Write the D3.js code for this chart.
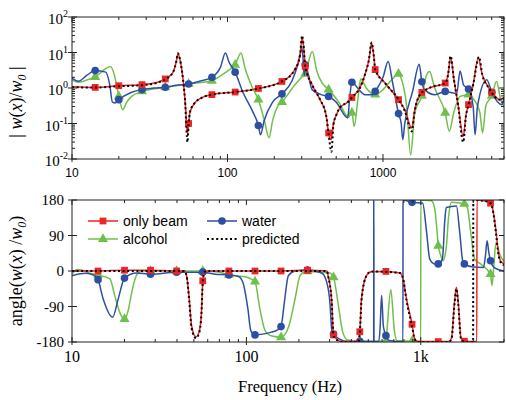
<!DOCTYPE html>
<html><head><meta charset="utf-8">
<script src="https://cdn.jsdelivr.net/npm/d3@7"></script>
<style>body{margin:0;background:#fff}</style></head>
<body>
<svg id="c" width="506" height="400"></svg>
<script>
// ---------- DATA ----------
const markerFreqs = [14.1, 20, 28.2, 39.8, 56.2, 79.4, 112, 158, 224, 316, 447, 631, 891, 1259, 1778, 2512, 3548, 5012];

// amplitude |w(x)/w0|
const beamAmpLine = [[10,1.09],[36,1.48],[44.5,2.7],[46.8,5.5],[48,9],[49.5,6.3],[51.8,1.7],[53.3,0.47],[55.3,0.05],[57.4,0.21],[61.6,0.38],[66.6,0.5],[271,3.3],[293,8.7],[302,27],[310,12],[350,1.24],[394,0.47],[430,0.177],[464,0.035],[480,0.1],[500,0.17],[529,0.28],[593,0.4],[711,1.02],[765,2.37],[812,6.3],[845,18.5],[875,7.1],[1030,1.38],[1380,0.245],[1530,0.075],[1600,0.245],[1730,0.65],[2005,1.02],[2620,2.37],[2720,7.3],[2860,1.71],[3040,0.34],[3280,0.043],[3420,0.177],[3800,1.24],[4100,7],[4350,2.37],[4780,1.02],[5650,0.47],[6000,0.53]];
const beamAmpMarks = [1.04, 1.16, 1.24, 1.8, 0.1, 0.65, 0.77, 0.97, 1.53, 4.06, 0.054, 0.54, 3.3, 0.47, 0.75, 1.38, 0.34, 0.75];

const waterAmpLine = [[10,1.9],[11,1.55],[12.5,2.3],[16.5,2.8],[17.5,1.2],[18.2,0.4],[19,0.38],[24,0.75],[34,1.0],[47,1.2],[68,1.6],[90,3.8],[97,9.7],[102,5.5],[125,0.8],[145,0.22],[163,0.048],[172,0.12],[195,0.4],[260,1.6],[285,5],[302,13.4],[312,2.2],[350,0.9],[400,0.65],[500,0.4],[593,0.143],[612,0.6],[700,0.9],[765,0.65],[860,0.65],[1000,2],[1080,5.6],[1150,1.5],[1310,0.1],[1340,0.035],[1380,0.1],[1550,0.8],[1710,4.7],[1850,0.9],[2160,0.65],[2980,0.7],[3130,3.0],[3300,1.2],[3800,0.3],[3910,0.048],[4050,0.3],[4650,1.7],[5800,0.34],[6000,0.5]];
const waterAmpMarks = [3.1, 0.47, 0.9, 1.05, 1.3, 2.0, 2.8, 0.088, 0.68, 4.5, 0.58, 1.45, 0.8, 0.19, 1.5, 0.8, 0.94, 0.75];

const alcoholAmpLine = [[10,1.7],[11,1.45],[13,1.8],[16,3.2],[17.6,4.06],[18.8,2.2],[19.6,0.9],[21.2,0.245],[22.5,0.4],[24.2,0.58],[90,2.2],[100,3],[122,9.7],[130,3.5],[145,1.0],[172,0.13],[185,0.04],[195,0.12],[210,0.3],[270,1.2],[300,2.0],[351,10.7],[375,3],[410,1.3],[520,0.4],[600,0.15],[653,0.083],[690,0.5],[718,1.8],[780,1.0],[1000,0.9],[1150,1.8],[1300,2.0],[1420,0.3],[1506,0.013],[1600,0.2],[1900,2.2],[1990,2.9],[2150,1.0],[2670,0.06],[2850,0.2],[3130,0.58],[3800,0.5],[4200,0.2],[4370,0.054],[4590,0.32],[5370,1.53],[5700,0.5],[6000,0.3]];
const alcoholAmpMarks = [2.04, 0.58, 0.8, 1.04, 1.3, 1.6, 4.5, 0.47, 0.4, 2.5, 0.9, 0.2, 0.65, 2.5, 0.6, 0.2, 0.65, 0.6];

const predAmp = [[10,1.05],[14.1,1.03],[20,1.12],[28.2,1.2],[36,1.45],[39.8,1.75],[44.5,2.7],[46.8,5.5],[48,9.5],[49.5,6.3],[51.8,1.7],[53.3,0.47],[55.3,0.03],[56.2,0.09],[57.4,0.21],[61.6,0.38],[66.6,0.5],[79.4,0.65],[112,0.77],[158,0.97],[224,1.53],[271,3.3],[293,8.7],[302,30],[310,12],[316,4.2],[350,1.24],[394,0.47],[430,0.177],[447,0.05],[466,0.016],[480,0.09],[500,0.17],[529,0.28],[593,0.4],[631,0.54],[711,1.02],[765,2.37],[812,6.3],[845,19],[875,7.1],[891,3.3],[1030,1.38],[1259,0.47],[1380,0.23],[1530,0.06],[1600,0.23],[1730,0.65],[2005,1.02],[2512,1.38],[2620,2.37],[2720,8],[2860,1.71],[3040,0.34],[3280,0.03],[3420,0.17],[3548,0.34],[3800,1.24],[4150,7.5],[4350,2.37],[4780,1.02],[5650,0.47],[6000,0.53]];

// phase angle(w(x)/w0), degrees
const beamPhaseLine = [[10,0],[44,0],[45.4,-12],[47,-70],[48.5,-139],[51.4,-167],[53.5,-155],[55.2,-110],[57.5,-3],[59,0],[290,0],[294,-12],[308,-71],[351,-179],[437,-179],[457,-71],[488,-12],[520,-2],[760,-5],[792,-20],[828,-71],[920,-170],[960,-179],[1450,-179],[1500,-170],[1560,-80],[1600,-41],[1640,-80],[1700,-170],[2095,-179],[2100,180],[2300,178],[2600,152],[2700,100],[2780,50],[2870,25],[3000,18]];
const beamPhaseMarks = [0, 2, 2, 0, -25, 0, 0, 0, 2, -162, -154, -1, -135, -179, -178, 172, null, null];

const waterPhaseLine = [[10,-12],[12,-6],[13.3,-10],[15.1,-71],[17.1,-117],[18.4,-71],[23.5,-5],[40,-3],[66,-8],[90,-14],[95.5,-29],[102,-96],[106,-151],[139,-155],[150,-150],[163,-100],[166,-71],[174,-12],[190,0],[270,-5],[285,-20],[300,-71],[310,-155],[340,-172],[383,-179],[537,-179],[537.5,180],[538.5,180],[539,-179],[575,-178],[585,-140],[596,-62],[610,-140],[660,-176],[790,-179],[791,180],[1025,172],[1080,98],[1126,30],[1200,18],[1330,30],[1375,132],[1400,161],[1600,165],[1672,98],[1745,22],[2000,10],[2290,9],[2350,40],[2400,77],[2450,50],[2650,8],[3000,0]];
const waterPhaseMarks = [-22, -18, -8, -3, -3, -10, -162, -141, 2.5, -160, -178, -164, 174, 18, 18, 26, null, null];

const alcoholPhaseLine = [[10,-8],[10.7,4],[11.5,2],[12.5,-5],[16.5,-20],[17.6,-63],[19,-110],[21,-100],[22,-54],[23.5,-10],[25,0],[70,-3],[100,-15],[106,-20],[119.5,-96],[128,-151],[140,-165],[175,-140],[190,-71],[203,-12],[215,-2],[300,-5],[335,-80],[357,-155],[380,-175],[418,-178],[600,-178],[640,-150],[673,-47],[705,-150],[730,-177],[999,-178],[1000,180],[1150,178],[1200,160],[1240,100],[1300,40],[1340,26],[1400,60],[1440,132],[1500,174],[1850,160],[1930,100],[2036,30],[2200,18],[2560,-37],[2620,10],[2700,72],[2850,40],[3000,25]];
const alcoholPhaseMarks = [-10, -122, 0, 0, 0, -10, -27, -168, -1, -16, -178, -178, -178, 64, 170, -8, null, null];

const predPhase = [[10,0],[44,0],[45.4,-12],[47,-75],[48.5,-145],[51.4,-170],[53.5,-158],[55.2,-110],[56.2,-30],[57.5,-3],[59,0],[290,0],[294,-12],[308,-75],[316,-165],[351,-180],[437,-180],[447,-158],[457,-75],[488,-12],[520,-1],[760,-5],[792,-20],[828,-75],[891,-140],[920,-172],[960,-180],[1450,-180],[1500,-172],[1560,-85],[1600,-45],[1640,-85],[1700,-172],[1800,-180],[1995,-180],[2000,180],[2300,178],[2512,172],[2600,150],[2700,95],[2780,45],[2870,22],[3000,15]];

const ampTickLabels = ["10","100","1000"];
const ampTickValues = [10,100,1000];
const phaseXTickLabels = ["10","100","1k"];
const phaseXTickValues = [10,100,1000];
const ampYTicks = [2,1,0,-1,-2];
const phaseYTicks = [180,90,0,-90,-180];
const legendNames = ["only beam","alcohol","water","predicted"];

// ---------- DRAW ----------
const RED="#ee2424", BLUE="#2d4fa3", GREEN="#6fc04b";
const SERIF="'Liberation Serif','Times New Roman',serif";
const SANS="'Liberation Sans',Arial,sans-serif";
const svg=d3.select("#c");
const L=72,R=504, tT=17,tB=159, bT=200,bB=342;
const xTop=d3.scaleLog().domain([10,6000]).range([L,R]);
const yTop=d3.scaleLog().domain([0.01,100]).range([tB,tT]);
const xBot=d3.scaleLog().domain([10,3000]).range([L,R]);
const yBot=d3.scaleLinear().domain([-180,180]).range([bB,bT]);

const defs=svg.append("defs");
defs.append("clipPath").attr("id","ct").append("rect").attr("x",L).attr("y",tT).attr("width",R-L).attr("height",tB-tT);
defs.append("clipPath").attr("id","cb").append("rect").attr("x",L).attr("y",bT).attr("width",R-L).attr("height",bB-bT);

function build(line, marks){
  const pts=line.map(d=>({f:d[0],v:d[1]}));
  markerFreqs.forEach((f,i)=>{ if(marks[i]!=null) pts.push({f,v:marks[i],m:true}); });
  pts.sort((a,b)=>a.f-b.f);
  return pts;
}
const sym={square:d3.symbol().type(d3.symbolSquare).size(46)(),
           circle:d3.symbol().type(d3.symbolCircle).size(46)(),
           tri:d3.symbol().type(d3.symbolTriangle).size(44)()};

function series(g, x, y, pts, color, shape){
  const ln=d3.line().x(d=>x(d.f)).y(d=>y(d.v)).curve(d3.curveMonotoneX);
  g.append("path").attr("d",ln(pts)).attr("fill","none").attr("stroke",color).attr("stroke-width",1.5);
  g.selectAll(null).data(pts.filter(d=>d.m)).enter().append("path")
    .attr("d",sym[shape]).attr("transform",d=>`translate(${x(d.f)},${y(d.v)})`).attr("fill",color);
}
function dotted(g,x,y,arr){
  const ln=d3.line().x(d=>x(d[0])).y(d=>y(d[1])).curve(d3.curveMonotoneX);
  g.append("path").attr("d",ln(arr)).attr("fill","none").attr("stroke","#000").attr("stroke-width",2).attr("stroke-dasharray","2,2.6");
}

// top panel
const gt=svg.append("g").attr("clip-path","url(#ct)");
series(gt,xTop,yTop,build(alcoholAmpLine,alcoholAmpMarks),GREEN,"tri");
series(gt,xTop,yTop,build(waterAmpLine,waterAmpMarks),BLUE,"circle");
series(gt,xTop,yTop,build(beamAmpLine,beamAmpMarks),RED,"square");
dotted(gt,xTop,yTop,predAmp);

// bottom panel
const gb=svg.append("g").attr("clip-path","url(#cb)");
series(gb,xBot,yBot,build(alcoholPhaseLine,alcoholPhaseMarks),GREEN,"tri");
series(gb,xBot,yBot,build(waterPhaseLine,waterPhaseMarks),BLUE,"circle");
series(gb,xBot,yBot,build(beamPhaseLine,beamPhaseMarks),RED,"square");
dotted(gb,xBot,yBot,predPhase);

// frames & ticks
const ax=svg.append("g").attr("stroke","#222").attr("stroke-width",1);
function frame(t,b){ ax.append("rect").attr("x",L).attr("y",t).attr("width",R-L).attr("height",b-t).attr("fill","none"); }
frame(tT,tB); frame(bT,bB);
function logX(x,t,b){
  const [d0,d1]=x.domain();
  for(let dec=1;dec<=1e4;dec*=10){ for(let k=1;k<=9;k++){ const v=k*dec; if(v<d0||v>d1) continue;
    const px=x(v), len=k===1?5:3;
    ax.append("line").attr("x1",px).attr("x2",px).attr("y1",b).attr("y2",b-len);
    ax.append("line").attr("x1",px).attr("x2",px).attr("y1",t).attr("y2",t+len);
    if(k===1) ax.append("line").attr("x1",px).attr("x2",px).attr("y1",b).attr("y2",b+3);
  }}
}
logX(xTop,tT,tB); logX(xBot,bT,bB);
// top y log ticks
for(let e=-2;e<=2;e++){ for(let k=1;k<=9;k++){ const v=k*Math.pow(10,e); if(v>100) continue;
  const py=yTop(v), len=k===1?5:3;
  ax.append("line").attr("x1",L).attr("x2",L+len).attr("y1",py).attr("y2",py);
  ax.append("line").attr("x1",R).attr("x2",R-len).attr("y1",py).attr("y2",py);
  if(k===1) ax.append("line").attr("x1",L-4).attr("x2",L).attr("y1",py).attr("y2",py);
}}
phaseYTicks.forEach(v=>{ const py=yBot(v);
  ax.append("line").attr("x1",L-4).attr("x2",L+5).attr("y1",py).attr("y2",py);
  ax.append("line").attr("x1",R).attr("x2",R-5).attr("y1",py).attr("y2",py);
});

// tick labels
ampTickValues.forEach((v,i)=>svg.append("text").attr("x",xTop(v)).attr("y",177).attr("text-anchor","middle")
  .attr("font-family",SANS).attr("font-size",12).text(ampTickLabels[i]));
phaseXTickValues.forEach((v,i)=>svg.append("text").attr("x",xBot(v)).attr("y",362).attr("text-anchor","middle")
  .attr("font-family",SERIF).attr("font-size",16).text(phaseXTickLabels[i]));
ampYTicks.forEach(e=>{ const t=svg.append("text").attr("x",68).attr("y",yTop(Math.pow(10,e))+7).attr("text-anchor","end")
  .attr("font-family",SERIF).attr("font-size",15);
  t.append("tspan").text("10"); t.append("tspan").attr("dy",-7).attr("font-size",10).text(String(e).replace("-","-")); });
phaseYTicks.forEach(v=>svg.append("text").attr("x",64).attr("y",yBot(v)+5).attr("text-anchor","end")
  .attr("font-family",SERIF).attr("font-size",15).text(String(v)));

// axis titles
const t1=svg.append("text").attr("transform",`translate(22,${102}) rotate(-90)`).attr("text-anchor","middle")
  .attr("font-family",SERIF).attr("font-size",18);
t1.append("tspan").text("| ");
t1.append("tspan").attr("font-style","italic").text("w");
t1.append("tspan").text("(");
t1.append("tspan").attr("font-style","italic").text("x");
t1.append("tspan").text(")/");
t1.append("tspan").attr("font-style","italic").text("w");
t1.append("tspan").attr("dy",4).attr("font-size",12).attr("font-style","italic").text("0");
t1.append("tspan").attr("dy",-4).text(" |");

const t2=svg.append("text").attr("transform",`translate(22,${271}) rotate(-90)`).attr("text-anchor","middle")
  .attr("font-family",SERIF).attr("font-size",18);
t2.append("tspan").text("angle(");
t2.append("tspan").attr("font-style","italic").text("w");
t2.append("tspan").text("(");
t2.append("tspan").attr("font-style","italic").text("x");
t2.append("tspan").text(") /");
t2.append("tspan").attr("font-style","italic").text("w");
t2.append("tspan").attr("dy",4).attr("font-size",12).attr("font-style","italic").text("0");
t2.append("tspan").attr("dy",-4).text(")");

svg.append("text").attr("x",290).attr("y",392).attr("text-anchor","middle").attr("font-family",SERIF)
  .attr("font-size",16.5).text("Frequency (Hz)");

// legend
const lg=svg.append("g");
const legendItems=[
  {name:legendNames[0],c:RED,s:"square",x:88,y:221},
  {name:legendNames[1],c:GREEN,s:"tri",x:88,y:239},
  {name:legendNames[2],c:BLUE,s:"circle",x:207,y:221},
  {name:legendNames[3],c:"#000",s:null,x:207,y:239}];
legendItems.forEach(d=>{
  const l=lg.append("line").attr("x1",d.x).attr("x2",d.x+30).attr("y1",d.y).attr("y2",d.y)
    .attr("stroke",d.c).attr("stroke-width",d.s?1.5:2);
  if(d.s) lg.append("path").attr("d",sym[d.s]).attr("transform",`translate(${d.x+15},${d.y})`).attr("fill",d.c);
  else l.attr("stroke-dasharray","2,2.6");
  lg.append("text").attr("x",d.x+35).attr("y",d.y+4.5).attr("font-family",SANS).attr("font-size",14).text(d.name);
});
</script>
</body></html>
